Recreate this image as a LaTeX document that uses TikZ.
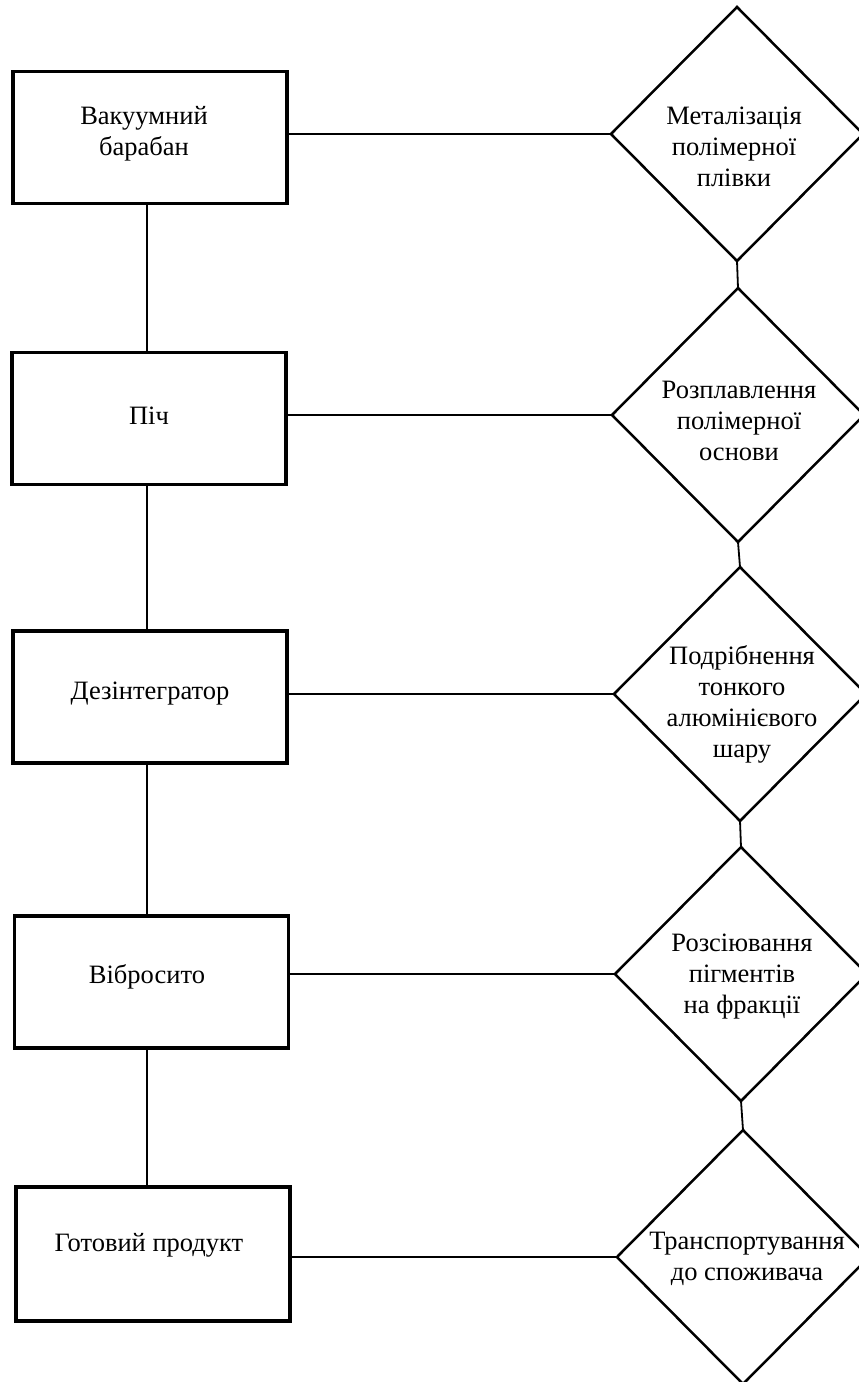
\documentclass[tikz,border=0pt]{standalone}
\usepackage{fontspec}
\setmainfont{Liberation Serif}
\usetikzlibrary{shapes.geometric}
\begin{document}
\begin{tikzpicture}[x=1pt,y=-1pt,
  boxnode/.style={draw=black,line width=3.3pt,rectangle,minimum width=274pt,minimum height=132pt,inner sep=0pt,outer sep=0pt},
  diamnode/.style={draw=black,line width=2.5pt,diamond,minimum width=252pt,minimum height=254pt,inner sep=0pt,outer sep=0pt},
  lbl/.style={align=center,inner sep=0pt,font=\fontsize{26.5}{31}\selectfont},
  conn/.style={draw=black,line width=1.8pt}]
\useasboundingbox (0,0) rectangle (859,1382);
\begin{scope}
\clip (0,0) rectangle (859,1382);
% boxes
\node[boxnode] (b1) at (150,137.5) {};
\node[boxnode] (b2) at (149,418.5) {};
\node[boxnode] (b3) at (150,697) {};
\node[boxnode] (b4) at (151.5,982) {};
\node[boxnode,minimum height=134pt] (b5) at (153,1254) {};
% diamonds
\node[diamnode] (d1) at (737,134) {};
\node[diamnode] (d2) at (738,415) {};
\node[diamnode] (d3) at (740,694) {};
\node[diamnode] (d4) at (741,974) {};
\node[diamnode] (d5) at (743,1257) {};
% box labels
\node[lbl] (t1) at (144,134) {Вакуумний\\барабан};
\node[lbl] (t2) at (149,416) {Піч};
\node[lbl] (t3) at (150,694) {Дезінтегратор};
\node[lbl] (t4) at (147,977) {Вібросито};
\node[lbl] (t5) at (149,1245) {Готовий продукт};
% diamond labels
\node[lbl] (s1) at (734,147) {Металізація\\полімерної\\плівки};
\node[lbl] (s2) at (739,421) {Розплавлення\\полімерної\\основи};
\node[lbl] (s3) at (742,704) {Подрібнення\\тонкого\\алюмінієвого\\шару};
\node[lbl] (s4) at (742,977) {Розсіювання\\пігментів\\на фракції};
\node[lbl] (s5) at (747,1259) {Транспортування\\до споживача};
% vertical connectors between boxes
\draw[conn] ([xshift=-3pt]b1.south) -- ([xshift=-2pt]b2.north);
\draw[conn] ([xshift=-2pt]b2.south) -- ([xshift=-3pt]b3.north);
\draw[conn] ([xshift=-3pt]b3.south) -- ([xshift=-4.5pt]b4.north);
\draw[conn] ([xshift=-4.5pt]b4.south) -- ([xshift=-6pt]b5.north);
% vertical connectors between diamonds
\draw[conn] (d1.south) -- (d2.north);
\draw[conn] (d2.south) -- (d3.north);
\draw[conn] (d3.south) -- (d4.north);
\draw[conn] (d4.south) -- (d5.north);
% horizontal connectors
\draw[conn] (d1.west -| b1.east) -- (d1.west);
\draw[conn] (d2.west -| b2.east) -- (d2.west);
\draw[conn] (d3.west -| b3.east) -- (d3.west);
\draw[conn] (d4.west -| b4.east) -- (d4.west);
\draw[conn] (d5.west -| b5.east) -- (d5.west);
\end{scope}
\end{tikzpicture}
\end{document}
